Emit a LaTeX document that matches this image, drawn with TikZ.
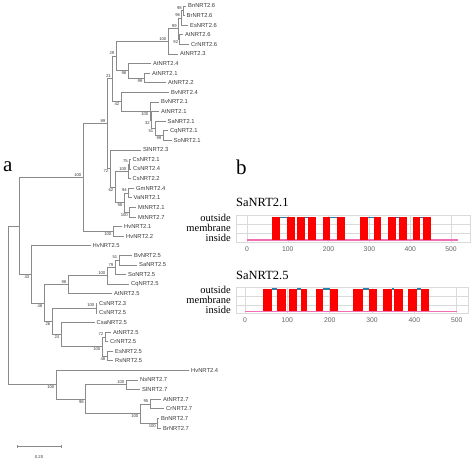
\documentclass[tikz,border=0pt]{standalone}
\usepackage{fontspec}
\setmainfont{Liberation Serif}
\newfontfamily\arialf{Liberation Sans}
\definecolor{treeline}{HTML}{8A8A8A}
\definecolor{labtxt}{HTML}{3A3A3A}
\definecolor{tmred}{HTML}{FF0000}
\definecolor{tmpink}{HTML}{F06EB4}
\definecolor{tmblue}{HTML}{2A7FA8}
\definecolor{gridc}{HTML}{DADADA}
\definecolor{ticktxt}{HTML}{606060}
\newcommand{\bsU}[3]{\node[bsu] (#1) at ([shift={(-1pt,0.5pt)}]#2) {#3};}
\newcommand{\bsL}[3]{\node[bsl] (#1) at ([shift={(-1pt,-0.5pt)}]#2) {#3};}
\begin{document}
\begin{tikzpicture}[x=1pt,y=-1pt,
  br/.style={draw=treeline,line width=0.7pt},
  leaf/.style={anchor=west,inner xsep=2pt,inner ysep=0pt,font=\arialf\fontsize{5.8}{6}\selectfont,text=labtxt},
  bsu/.style={anchor=south east,inner sep=0.5pt,font=\arialf\fontsize{4.2}{5}\selectfont,text=labtxt},
  bsl/.style={anchor=north east,inner sep=0.5pt,font=\arialf\fontsize{4.2}{5}\selectfont,text=labtxt},
  panel/.style={anchor=base west,inner sep=0pt,font=\fontsize{21}{24}\selectfont},
  ptitle/.style={anchor=base west,inner sep=0pt,font=\fontsize{12.5}{14}\selectfont},
  rowlab/.style={anchor=base east,inner sep=0pt,font=\fontsize{10.5}{12}\selectfont},
  ticklab/.style={inner sep=0pt,font=\arialf\fontsize{6.8}{8}\selectfont,text=ticktxt},
  tmbar/.style={fill=tmred},
  inloop/.style={draw=tmpink,line width=1.6pt},
  outloop/.style={draw=tmblue,line width=1.3pt},
  gridl/.style={draw=gridc,line width=0.5pt}
]
\useasboundingbox (0,0) rectangle (474,462);
% ---------------- tree: internal nodes
\coordinate (nRoot) at (8,305.4);
\coordinate (nA1) at (19,225.9);
\coordinate (n100a) at (83,177.5);
\coordinate (n89) at (107,123.6);
\coordinate (n21) at (112.5,78.8);
\coordinate (n29) at (116,56.1);
\coordinate (n100b) at (168,41.4);
\coordinate (n99a) at (178.3,28.8);
\coordinate (n96) at (181.7,18);
\coordinate (n98a) at (183.5,10.8);
\coordinate (n92) at (179.8,39.6);
\coordinate (n98b) at (128,70.7);
\coordinate (n99b) at (144,77.9);
\coordinate (n42) at (121,101.6);
\coordinate (n100c) at (150,110.9);
\coordinate (n32) at (151.5,119.9);
\coordinate (n51a) at (155,128.3);
\coordinate (n99c) at (163,135.5);
\coordinate (n72) at (110,168.5);
\coordinate (n62) at (115,187);
\coordinate (n100d) at (128,171.4);
\coordinate (n75) at (129.5,164.2);
\coordinate (n98c) at (124,202.6);
\coordinate (n94) at (128.5,193);
\coordinate (n100e) at (129.5,212.2);
\coordinate (nHv) at (113,231.4);
\coordinate (n43) at (31,274.4);
\coordinate (n48) at (44,303);
\coordinate (n98d) at (68,284.7);
\coordinate (n100f) at (107,275.7);
\coordinate (n79) at (115,267.3);
\coordinate (n51b) at (119,260.1);
\coordinate (n26) at (52,321.3);
\coordinate (n100g) at (96,308.1);
\coordinate (n24) at (61,334.5);
\coordinate (n100h) at (102,346.5);
\coordinate (n72b) at (105,336.9);
\coordinate (n48b) at (107,356);
\coordinate (nB) at (56,384.8);
\coordinate (n98e) at (85.5,399.2);
\coordinate (n100i) at (126,384.8);
\coordinate (n100j) at (140,413.6);
\coordinate (n95) at (150,404);
\coordinate (n100k) at (157.5,423.2);
% ---------------- tree: leaves
\node[leaf] (l00) at (186,6.0) {BnNRT2.6};
\node[leaf] (l01) at (184.5,15.6) {BrNRT2.6};
\node[leaf] (l02) at (188,25.2) {EsNRT2.6};
\node[leaf] (l03) at (183,34.8) {AtNRT2.6};
\node[leaf] (l04) at (189,44.4) {CrNRT2.6};
\node[leaf] (l05) at (178,54.0) {AtNRT2.3};
\node[leaf] (l06) at (151,63.5) {AtNRT2.4};
\node[leaf] (l07) at (150,73.1) {AtNRT2.1};
\node[leaf] (l08) at (166,82.7) {AtNRT2.2};
\node[leaf] (l09) at (169,92.3) {BvNRT2.4};
\node[leaf] (l10) at (159,101.9) {BvNRT2.1};
\node[leaf] (l11) at (159,111.5) {AtNRT2.1};
\node[leaf] (l12) at (165.5,121.1) {SaNRT2.1};
\node[leaf] (l13) at (168,130.7) {CqNRT2.1};
\node[leaf] (l14) at (171.5,140.3) {SoNRT2.1};
\node[leaf] (l15) at (141,149.9) {SlNRT2.3};
\node[leaf] (l16) at (130.5,159.4) {CsNRT2.1};
\node[leaf] (l17) at (131,169.0) {CsNRT2.4};
\node[leaf] (l18) at (130.5,178.6) {CsNRT2.2};
\node[leaf] (l19) at (134,188.2) {GmNRT2.4};
\node[leaf] (l20) at (131.5,197.8) {VaNRT2.1};
\node[leaf] (l21) at (136,207.4) {MtNRT2.1};
\node[leaf] (l22) at (136,217.0) {MtNRT2.7};
\node[leaf] (l23) at (122,226.6) {HvNRT2.1};
\node[leaf] (l24) at (124,236.2) {HvNRT2.2};
\node[leaf] (l25) at (90.5,245.8) {HvNRT2.5};
\node[leaf] (l26) at (132,255.3) {BvNRT2.5};
\node[leaf] (l27) at (137,264.9) {SaNRT2.5};
\node[leaf] (l28) at (126,274.5) {SoNRT2.5};
\node[leaf] (l29) at (129,284.1) {CqNRT2.5};
\node[leaf] (l30) at (112,293.7) {AtNRT2.5};
\node[leaf] (l31) at (97,303.3) {CsNRT2.3};
\node[leaf] (l32) at (97,312.9) {CsNRT2.5};
\node[leaf] (l33) at (94.5,322.5) {CsaNRT2.5};
\node[leaf] (l34) at (111,332.1) {AtNRT2.5};
\node[leaf] (l35) at (108,341.7) {CrNRT2.5};
\node[leaf] (l36) at (113,351.2) {EsNRT2.5};
\node[leaf] (l37) at (113,360.8) {RsNRT2.5};
\node[leaf] (l38) at (189,370.4) {HvNRT2.4};
\node[leaf] (l39) at (138,380.0) {NsNRT2.7};
\node[leaf] (l40) at (140,389.6) {SlNRT2.7};
\node[leaf] (l41) at (161,399.2) {AtNRT2.7};
\node[leaf] (l42) at (164,408.8) {CrNRT2.7};
\node[leaf] (l43) at (159,418.4) {BnNRT2.7};
\node[leaf] (l44) at (161,428.0) {BrNRT2.7};
% ---------------- tree: branches
\foreach \p/\c in {nRoot/nA1, nRoot/nB, nA1/n100a, nA1/n43, n100a/n89, n100a/nHv,
  n89/n21, n89/n72, n21/n29, n21/n42, n29/n100b, n29/n98b, n100b/n99a, n100b/l05.west,
  n99a/n96, n99a/n92, n96/n98a, n96/l02.west, n98a/l00.west, n98a/l01.west,
  n92/l03.west, n92/l04.west, n98b/l06.west, n98b/n99b, n99b/l07.west, n99b/l08.west,
  n42/l09.west, n42/n100c, n100c/l10.west, n100c/n32, n32/l11.west, n32/n51a,
  n51a/l12.west, n51a/n99c, n99c/l13.west, n99c/l14.west,
  n72/l15.west, n72/n62, n62/n100d, n62/n98c, n100d/n75, n100d/l18.west,
  n75/l16.west, n75/l17.west, n98c/n94, n98c/n100e, n94/l19.west, n94/l20.west,
  n100e/l21.west, n100e/l22.west, nHv/l23.west, nHv/l24.west,
  n43/l25.west, n43/n48, n48/n98d, n48/n26, n98d/n100f, n98d/l30.west,
  n100f/n79, n100f/l29.west, n79/n51b, n79/l28.west, n51b/l26.west, n51b/l27.west,
  n26/n100g, n26/n24, n100g/l31.west, n100g/l32.west, n24/l33.west, n24/n100h,
  n100h/n72b, n100h/n48b, n72b/l34.west, n72b/l35.west, n48b/l36.west, n48b/l37.west,
  nB/l38.west, nB/n98e, n98e/n100i, n98e/n100j, n100i/l39.west, n100i/l40.west,
  n100j/n95, n100j/n100k, n95/l41.west, n95/l42.west, n100k/l43.west, n100k/l44.west}
  \draw[br] (\p) |- (\c);
% ---------------- tree: bootstrap values
\bsU{b01}{n98a}{98}
\bsU{b02}{n96}{96}
\bsL{b03}{n92}{92}
\bsU{b04}{n99a}{99}
\bsU{b05}{n100b}{100}
\bsL{b06}{n99b}{99}
\bsL{b07}{n98b}{98}
\bsU{b08}{n29}{29}
\bsL{b09}{n99c}{99}
\bsL{b10}{n51a}{51}
\bsL{b11}{n32}{32}
\bsL{b12}{n100c}{100}
\bsL{b13}{n42}{42}
\bsU{b14}{n21}{21}
\bsU{b15}{n75}{75}
\bsU{b16}{n100d}{100}
\bsU{b17}{n94}{94}
\bsL{b18}{n100e}{100}
\bsL{b19}{n98c}{98}
\bsL{b20}{n62}{62}
\bsL{b21}{n72}{72}
\bsU{b22}{n89}{89}
\bsL{b23}{nHv}{100}
\bsU{b24}{n100a}{100}
\bsU{b25}{n51b}{51}
\bsU{b26}{n79}{79}
\bsU{b27}{n100f}{100}
\bsU{b28}{n98d}{98}
\bsU{b29}{n100g}{100}
\bsU{b30}{n72b}{72}
\bsL{b31}{n48b}{48}
\bsL{b32}{n100h}{100}
\bsL{b33}{n24}{24}
\bsL{b34}{n26}{26}
\bsL{b35}{n48}{48}
\bsL{b36}{n43}{43}
\bsU{b37}{n100i}{100}
\bsU{b38}{n95}{95}
\bsL{b39}{n100k}{100}
\bsL{b40}{n100j}{100}
\bsL{b41}{n98e}{98}
\bsL{b42}{nB}{100}
% ---------------- scale bar
\coordinate (sbA) at (17,446);
\coordinate (sbB) at (61,446);
\draw[br] (sbA) -- (sbB);
\draw[br] ([yshift=1.5pt]sbA) -- ([yshift=-1.5pt]sbA);
\draw[br] ([yshift=1.5pt]sbB) -- ([yshift=-1.5pt]sbB);
\node[bsu,anchor=center] (sbl) at (39,457) {0.20};
% ---------------- panel labels
\node[panel] (pa) at (3,172) {a};
\node[panel] (pb) at (236,175) {b};
% ---------------- plot 1: SaNRT2.1
\node[ptitle] (t1) at (236,207) {SaNRT2.1};
\node[rowlab] (o1) at (231,221.5) {outside};
\node[rowlab] (m1) at (231,231.5) {membrane};
\node[rowlab] (i1) at (231,241.5) {inside};
\draw[gridl,fill=white] (236.7,215) rectangle (470,242);
\draw[gridl] (236.7,224) -- (470,224) (236.7,233) -- (470,233);
\foreach \k/\t in {0/0,1/100,2/200,3/300,4/400,5/500}{
  \draw[gridl] (247+40.8*\k,215) -- (247+40.8*\k,242);
  \node[ticklab] at (247+40.8*\k,249.5) {\t};
}
\draw[inloop] (247,240) -- (458,240);
\foreach \a/\b in {272.3/280,287.3/295,297.3/305,307.7/316,322.7/330,337.3/345.3,360/368,374/381.3,388.3/395.7,399/406.7,412.7/420,423.3/431.3}
  \fill[tmbar] (\a,217.3) rectangle (\b,240);
\foreach \a/\b in {280/287.3,305/307.7,330/337.3,368/374,395.7/399,420/423.3}
  \draw[outloop] (\a,217.3) -- (\b,217.3);
% ---------------- plot 2: SaNRT2.5
\node[ptitle] (t2) at (236,280) {SaNRT2.5};
\node[rowlab] (o2) at (231,293.5) {outside};
\node[rowlab] (m2) at (231,303.5) {membrane};
\node[rowlab] (i2) at (231,313.5) {inside};
\draw[gridl,fill=white] (236,287) rectangle (468,313.5);
\draw[gridl] (236,296) -- (468,296) (236,305) -- (468,305);
\foreach \k/\t in {0/0,1/100,2/200,3/300,4/400,5/500}{
  \draw[gridl] (245+42.34*\k,287) -- (245+42.34*\k,313.5);
  \node[ticklab] at (245+42.34*\k,320.5) {\t};
}
\draw[inloop] (245,311.5) -- (456.7,311.5);
\foreach \a/\b in {262.7/271.7,277.3/286,289.3/297.3,300.7/307.3,315.7/322.7,330/338.3,353.3/362.7,369/376.7,383.3/392.3,394/402.7,408.3/416.7,420.7/429}
  \fill[tmbar] (\a,289) rectangle (\b,311.5);
\foreach \a/\b in {271.7/277.3,297.3/300.7,322.7/330,362.7/369,392.3/394,416.7/420.7}
  \draw[outloop] (\a,289) -- (\b,289);
\end{tikzpicture}
\end{document}
